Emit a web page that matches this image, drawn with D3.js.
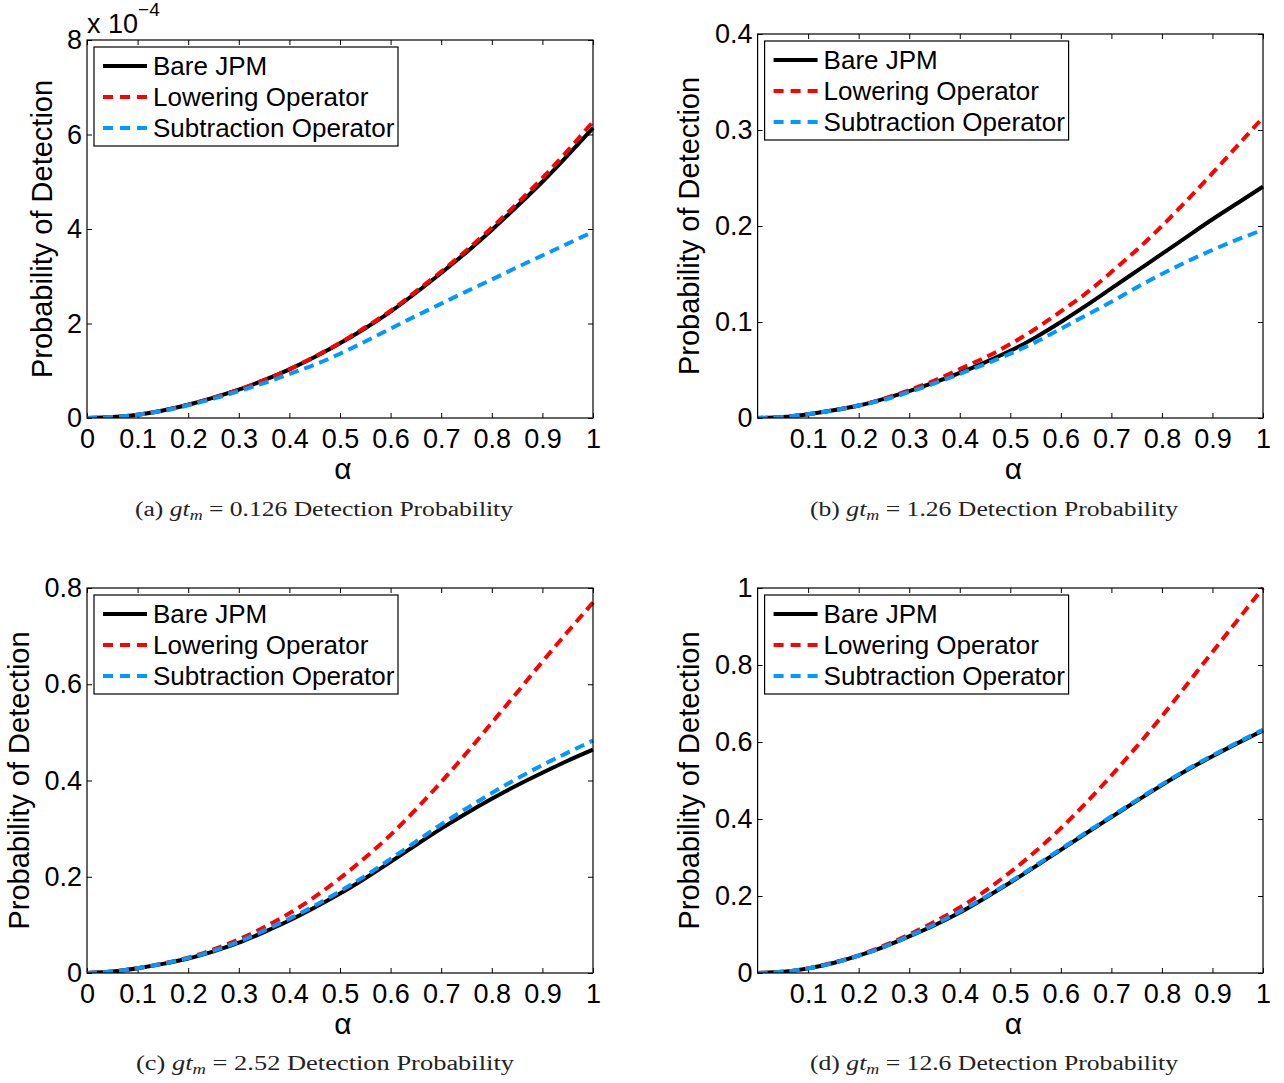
<!DOCTYPE html>
<html>
<head>
<meta charset="utf-8">
<script src="https://cdn.jsdelivr.net/npm/d3@7/dist/d3.min.js"></script>
<style>
  html, body { margin: 0; padding: 0; background: #fff; }
  svg { display: block; }
</style>
</head>
<body>
<script>
// ---------------- DATA ----------------
const alpha = [0, 0.05, 0.1, 0.15, 0.2, 0.25, 0.3, 0.35, 0.4, 0.45, 0.5,
               0.55, 0.6, 0.65, 0.7, 0.75, 0.8, 0.85, 0.9, 0.95, 1];

const seriesNames = ["Bare JPM", "Lowering Operator", "Subtraction Operator"];

// (a) gt_m = 0.126  (values in units of 1e-4)
const aBare  = [0, 0.02, 0.07, 0.16, 0.28, 0.43, 0.6, 0.8, 1.03, 1.29, 1.58, 1.9, 2.25, 2.65, 3.07, 3.51, 3.98, 4.48, 5.0, 5.56, 6.14];
const aLower = [0, 0.02, 0.07, 0.16, 0.28, 0.43, 0.6, 0.8, 1.03, 1.3, 1.59, 1.92, 2.27, 2.68, 3.1, 3.55, 4.03, 4.54, 5.08, 5.66, 6.27];
const aSub   = [0, 0.02, 0.07, 0.15, 0.27, 0.41, 0.57, 0.74, 0.93, 1.13, 1.36, 1.62, 1.89, 2.16, 2.42, 2.68, 2.93, 3.19, 3.44, 3.69, 3.94];

// (b) gt_m = 1.26
const bBare  = [0, 0.001, 0.004, 0.008, 0.013, 0.02, 0.028, 0.037, 0.047, 0.058, 0.07, 0.084, 0.1, 0.117, 0.135, 0.153, 0.171, 0.189, 0.207, 0.224, 0.241];
const bLower = [0, 0.001, 0.004, 0.008, 0.013, 0.02, 0.029, 0.039, 0.051, 0.063, 0.077, 0.093, 0.111, 0.13, 0.152, 0.175, 0.2, 0.227, 0.255, 0.284, 0.313];
const bSub   = [0, 0.001, 0.004, 0.008, 0.013, 0.019, 0.027, 0.036, 0.046, 0.056, 0.067, 0.079, 0.093, 0.107, 0.121, 0.136, 0.15, 0.163, 0.175, 0.186, 0.196];

// (c) gt_m = 2.52
const cBare  = [0, 0.003, 0.01, 0.019, 0.03, 0.045, 0.063, 0.085, 0.109, 0.136, 0.165, 0.197, 0.231, 0.266, 0.3, 0.332, 0.362, 0.39, 0.416, 0.441, 0.464];
const cLower = [0, 0.003, 0.01, 0.02, 0.032, 0.049, 0.07, 0.095, 0.124, 0.158, 0.197, 0.24, 0.287, 0.34, 0.397, 0.457, 0.52, 0.583, 0.647, 0.709, 0.77];
const cSub   = [0, 0.003, 0.01, 0.019, 0.031, 0.046, 0.065, 0.088, 0.113, 0.14, 0.17, 0.202, 0.237, 0.273, 0.309, 0.342, 0.374, 0.404, 0.432, 0.458, 0.483];

// (d) gt_m = 12.6
const dBare  = [0, 0.003, 0.012, 0.026, 0.045, 0.068, 0.095, 0.124, 0.157, 0.195, 0.235, 0.277, 0.32, 0.363, 0.405, 0.447, 0.488, 0.527, 0.563, 0.597, 0.63];
const dLower = [0, 0.003, 0.012, 0.027, 0.046, 0.071, 0.1, 0.133, 0.17, 0.213, 0.262, 0.316, 0.376, 0.442, 0.513, 0.588, 0.667, 0.75, 0.834, 0.917, 1.0];
const dSub   = [0, 0.003, 0.012, 0.026, 0.045, 0.068, 0.096, 0.126, 0.16, 0.197, 0.237, 0.279, 0.322, 0.365, 0.407, 0.449, 0.49, 0.529, 0.565, 0.599, 0.632];

// tick values / labels
const xTicksFull   = [0, 0.1, 0.2, 0.3, 0.4, 0.5, 0.6, 0.7, 0.8, 0.9, 1];
const xTicksNoZero = [0.1, 0.2, 0.3, 0.4, 0.5, 0.6, 0.7, 0.8, 0.9, 1];
const yTicksA = [0, 2, 4, 6, 8];
const yTicksB = [0, 0.1, 0.2, 0.3, 0.4];
const yTicksC = [0, 0.2, 0.4, 0.6, 0.8];
const yTicksD = [0, 0.2, 0.4, 0.6, 0.8, 1];

const captionLetters = ["(a)", "(b)", "(c)", "(d)"];
const captionValues  = ["0.126", "1.26", "2.52", "12.6"];
const yLabel = "Probability of Detection";
const xLabel = "α";

// ---------------- STYLE / LAYOUT ----------------
const W = 1284, H = 1083;
const colors = ["#000000", "#ff0000", "#0099ff"];
const dashes = [null, "10,6", "10,6"];
const sansFont = "'Liberation Sans', Arial, Helvetica, sans-serif";
const serifFont = "'Liberation Serif', 'Times New Roman', serif";

const panels = [
  { box: {l: 87,    t: 40,  r: 593,  b: 418}, yDomain: [0, 8],   yTicks: yTicksA, xTicks: xTicksFull,
    data: [aBare, aLower, aSub], ylabX: 52, capX: 324, capY: 516, exp: true },
  { box: {l: 757.6, t: 34,  r: 1263, b: 418}, yDomain: [0, 0.4], yTicks: yTicksB, xTicks: xTicksNoZero,
    data: [bBare, bLower, bSub], ylabX: 699, capX: 994, capY: 516 },
  { box: {l: 87,    t: 588, r: 593,  b: 973}, yDomain: [0, 0.8], yTicks: yTicksC, xTicks: xTicksFull,
    data: [cBare, cLower, cSub], ylabX: 29, capX: 325, capY: 1070 },
  { box: {l: 757.6, t: 588, r: 1263, b: 973}, yDomain: [0, 1],   yTicks: yTicksD, xTicks: xTicksNoZero,
    data: [dBare, dLower, dSub], ylabX: 699, capX: 994, capY: 1070 }
];

const svg = d3.select("body").append("svg")
  .attr("width", W).attr("height", H)
  .attr("xmlns", "http://www.w3.org/2000/svg");
svg.append("rect").attr("width", W).attr("height", H).attr("fill", "#fff");

panels.forEach((p, i) => {
  const b = p.box;
  const x = d3.scaleLinear().domain([0, 1]).range([b.l, b.r]);
  const y = d3.scaleLinear().domain(p.yDomain).range([b.b, b.t]);
  const g = svg.append("g");
  const fmt = d => (p.exp ? String(d) : d3.format("~g")(d));

  // axes (ticks inward on all four sides)
  const tickLen = 5;
  const ax = [
    g.append("g").attr("transform", `translate(0,${b.b})`)
      .call(d3.axisBottom(x).tickValues(p.xTicks).tickSize(-tickLen).tickSizeOuter(0).tickPadding(11).tickFormat(d3.format("~g"))),
    g.append("g").attr("transform", `translate(0,${b.t})`)
      .call(d3.axisTop(x).tickValues(p.xTicks).tickSize(-tickLen).tickSizeOuter(0).tickFormat("")),
    g.append("g").attr("transform", `translate(${b.l},0)`)
      .call(d3.axisLeft(y).tickValues(p.yTicks).tickSize(-tickLen).tickSizeOuter(0).tickPadding(5).tickFormat(fmt)),
    g.append("g").attr("transform", `translate(${b.r},0)`)
      .call(d3.axisRight(y).tickValues(p.yTicks).tickSize(-tickLen).tickSizeOuter(0).tickFormat(""))
  ];
  ax.forEach(a => {
    a.select(".domain").remove();
    a.selectAll("line").attr("stroke", "#000").attr("stroke-width", 1);
    a.selectAll("text").attr("fill", "#000").style("font-family", sansFont).style("font-size", "27px");
  });

  // curves: black, red, blue
  const line = d3.line().x((d, k) => x(alpha[k])).y(d => y(d)).curve(d3.curveNatural);
  const clipId = "clip" + i;
  g.append("clipPath").attr("id", clipId).append("rect")
    .attr("x", b.l).attr("y", b.t - 4).attr("width", b.r - b.l + 2).attr("height", b.b - b.t + 4);
  p.data.forEach((vals, s) => {
    const path = g.append("path")
      .attr("d", line(vals))
      .attr("fill", "none")
      .attr("stroke", colors[s])
      .attr("stroke-width", 4)
      .attr("clip-path", `url(#${clipId})`);
    if (dashes[s]) path.attr("stroke-dasharray", dashes[s]);
  });

  // frame
  g.append("rect").attr("x", b.l).attr("y", b.t).attr("width", b.r - b.l).attr("height", b.b - b.t)
    .attr("fill", "none").attr("stroke", "#000").attr("stroke-width", 1.2);

  // legend
  const lg = g.append("g").attr("transform", `translate(${b.l + 7},${b.t + 7})`);
  lg.append("rect").attr("width", 304).attr("height", 99)
    .attr("fill", "#fff").attr("stroke", "#000").attr("stroke-width", 1.2);
  seriesNames.forEach((name, s) => {
    const cy = 19 + s * 31;
    const ln = lg.append("line").attr("x1", 9).attr("x2", 53).attr("y1", cy).attr("y2", cy)
      .attr("stroke", colors[s]).attr("stroke-width", 4);
    if (dashes[s]) ln.attr("stroke-dasharray", "10,7");
    lg.append("text").attr("x", 59).attr("y", cy).attr("dy", "0.36em")
      .style("font-family", sansFont).style("font-size", "26px").attr("fill", "#000")
      .text(name);
  });

  // axis labels
  g.append("text")
    .attr("transform", `translate(${p.ylabX},${(b.t + b.b) / 2}) rotate(-90)`)
    .attr("text-anchor", "middle")
    .style("font-family", sansFont).style("font-size", "29px").attr("fill", "#000")
    .text(yLabel);
  g.append("text")
    .attr("x", (b.l + b.r) / 2 + 3).attr("y", b.b + 61)
    .attr("text-anchor", "middle")
    .style("font-family", sansFont).style("font-size", "30px").attr("fill", "#000")
    .text(xLabel);

  // exponent label
  if (p.exp) {
    const e = g.append("text").attr("x", b.l).attr("y", b.t - 7)
      .style("font-family", sansFont).style("font-size", "27px").attr("fill", "#000");
    e.append("tspan").text("x 10");
    e.append("tspan").attr("dy", -17).style("font-size", "19px").text("−4");
  }

  // caption
  const c = svg.append("text").attr("x", p.capX).attr("y", p.capY)
    .attr("text-anchor", "middle")
    .attr("textLength", i % 2 === 0 ? 378 : 368).attr("lengthAdjust", "spacingAndGlyphs")
    .style("font-family", serifFont).style("font-size", "20px").attr("fill", "#222");
  c.append("tspan").text(captionLetters[i] + " ");
  c.append("tspan").style("font-style", "italic").text("gt");
  c.append("tspan").style("font-style", "italic").style("font-size", "14px").attr("dy", 4).text("m");
  c.append("tspan").attr("dy", -4).text(" = " + captionValues[i] + " Detection Probability");
});
</script>
</body>
</html>
